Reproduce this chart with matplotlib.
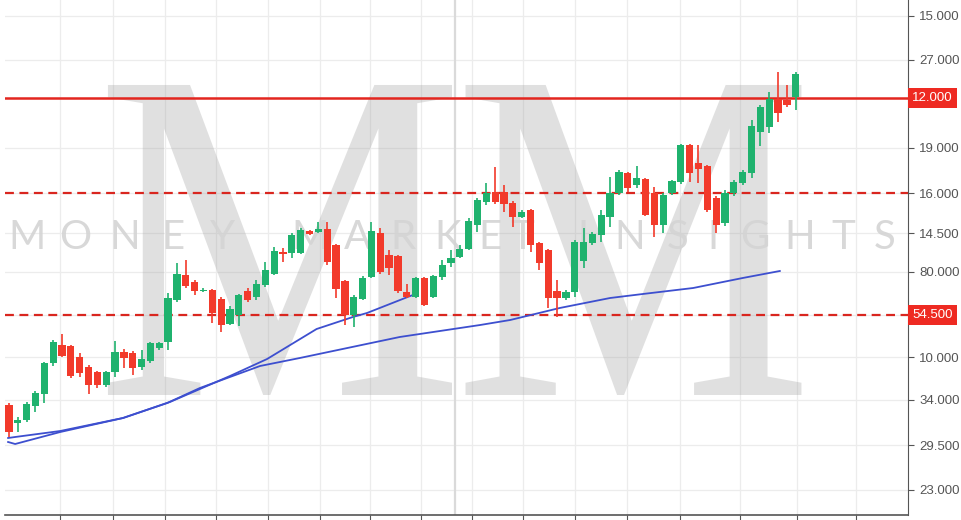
import numpy as np
import matplotlib
matplotlib.use("Agg")
import matplotlib.pyplot as plt
import matplotlib.transforms as mtransforms
from matplotlib.textpath import TextPath
from matplotlib.patches import PathPatch
from matplotlib.font_manager import FontProperties

# Candles (open, high, low, close), price units
opens = [115, 97, 100, 114, 126, 157, 175, 174, 163, 153,
         148, 135, 148, 168, 167, 153, 159, 172, 178, 220,
         245, 238, 229, 230, 221, 196, 205, 229, 223, 235,
         246, 268, 267, 267, 289, 288, 291, 275, 239, 205,
         221, 243, 287, 265, 264, 228, 223, 242, 223, 243,
         257, 263, 271, 295, 318, 328, 328, 317, 303, 310,
         277, 270, 229, 222, 228, 259, 277, 285, 303, 327,
         347, 335, 341, 327, 295, 327, 338, 375, 357, 354,
         322, 297, 327, 337, 347, 388, 393, 421, 420, 423]
highs = [117, 103, 118, 129, 158, 180, 186, 175, 167, 155,
         149, 149, 179, 171, 169, 170, 178, 178, 227, 257,
         260, 240, 232, 231, 223, 214, 226, 232, 240, 258,
         273, 272, 287, 292, 290, 298, 298, 276, 240, 225,
         244, 298, 292, 270, 265, 236, 243, 243, 245, 260,
         270, 275, 302, 322, 337, 353, 335, 319, 310, 311,
         278, 271, 240, 230, 280, 292, 288, 310, 343, 350,
         348, 354, 342, 333, 327, 340, 376, 376, 375, 355,
         324, 330, 340, 350, 400, 415, 428, 448, 435, 448]
lows = [83, 88, 98, 108, 117, 154, 163, 142, 143, 126,
        132, 133, 143, 152, 145, 150, 157, 170, 170, 218,
        232, 225, 228, 197, 188, 195, 194, 218, 220, 233,
        245, 258, 262, 266, 285, 287, 255, 222, 195, 193,
        220, 242, 246, 245, 227, 222, 222, 214, 222, 240,
        253, 262, 270, 288, 315, 316, 308, 293, 302, 268,
        250, 212, 203, 220, 223, 252, 275, 278, 293, 325,
        328, 332, 304, 283, 287, 325, 336, 338, 337, 308,
        287, 294, 324, 335, 342, 374, 387, 398, 413, 410]
closes = [88, 100, 116, 127, 157, 178, 164, 144, 147, 135,
          135, 148, 168, 162, 152, 161, 177, 177, 222, 246,
          234, 229, 230, 207, 195, 211, 225, 220, 236, 250,
          269, 266, 285, 290, 286, 291, 258, 231, 205, 223,
          242, 289, 248, 252, 229, 223, 242, 215, 244, 255,
          262, 271, 299, 320, 327, 318, 316, 303, 308, 275,
          257, 222, 222, 228, 278, 278, 286, 305, 327, 348,
          332, 342, 305, 295, 325, 339, 375, 347, 351, 310,
          295, 327, 338, 348, 394, 413, 421, 407, 415, 446]

# Moving averages (bar index, value)
ma_slow_x = [-0.1, 0.7, 5.8, 12.9, 17.9, 21.6, 25.3, 28.4, 32.9, 44.2,
             53.3, 56.7, 62.3, 68.0, 71.7, 77.4, 83.0, 87.2]
ma_slow_y = [82, 83, 89, 102, 117, 132, 144, 154, 162, 183,
             195, 200, 212, 222, 226, 232, 242, 249]
ma_fast_x = [-0.1, 0.7, 5.8, 12.9, 18.2, 25.0, 29.2, 34.8, 38.9, 40.5, 45.1, 45.7]
ma_fast_y = [78, 76, 88, 102, 118, 144, 161, 191, 203, 207, 223, 225]

# Support / resistance levels
level_main = 422
levels_dashed = [327, 205]

# Right axis
tick_vals = [504, 460, 422, 372, 327, 287, 248, 205, 163, 120, 75, 30]
tick_labels = ["15.000", "27.000", "12.000", "19.000", "16.000", "14.500",
               "80.000", "54.500", "10.000", "34.000", "29.500", "23.000"]
boxed = {422: "12.000", 205: "54.500"}
x_ticks = [5.8, 11.8, 17.6, 23.4, 29.3, 35.2, 40.8, 46.6, 52.4, 58.1,
           64.0, 69.9, 75.9, 82.7, 89.1, 95.8]

GREEN = "#1fb26e"
RED = "#f23a2b"
BLUE = "#3d4fcf"


def fit_text(ax, s, box, family, color, alpha, z):
    tp = TextPath((0, 0), s, size=100, prop=FontProperties(family=family))
    ext = tp.get_extents()
    x0, y0, x1, y1 = box
    tr = mtransforms.Affine2D().translate(-ext.x0, -ext.y0) \
        .scale((x1 - x0) / ext.width, (y1 - y0) / ext.height) \
        .translate(x0, y0) + ax.transAxes
    ax.add_patch(PathPatch(tp, transform=tr, fc=color, ec="none",
                           alpha=alpha, zorder=z))


fig = plt.figure(figsize=(9.62, 5.2), dpi=100)
ax = fig.add_axes([5 / 962, 5 / 520, 903 / 962, 515 / 520])

# grid
for v in tick_vals:
    ax.axhline(v, color="#ececec", lw=0.9, zorder=0)
for v in x_ticks:
    ax.axvline(v, color="#ececec", lw=0.9, zorder=0)
ax.axvline(50.45, color="#dadada", lw=1.6, zorder=0.5)

# watermark
fit_text(ax, "M", (0.114, 0.233, 0.495, 0.835), "Liberation Serif", "#9a9a9a", 0.3, 1)
fit_text(ax, "M", (0.510, 0.233, 0.882, 0.835), "Liberation Serif", "#9a9a9a", 0.3, 1)
wm_chars = "MONEYMARKETINSIGHTS"
wm_px = [27, 75, 125, 173, 223, 310, 357, 403, 448, 490, 522,
         583, 630, 678, 713, 755, 800, 843, 885]
for ch, px in zip(wm_chars, wm_px):
    ax.text((px - 5) / 903, 0.538, ch, transform=ax.transAxes, ha="center",
            va="center", fontsize=29, family="Lato", fontweight="normal",
            color="#d4d4d4", alpha=0.9, zorder=1)

# levels
ax.axhline(level_main, color="#e3261f", lw=1.8, zorder=2)
for lv in levels_dashed:
    ax.axhline(lv, color="#d9261f", lw=1.6, ls=(0, (4, 2.5)), zorder=2)

# moving averages
ax.plot(ma_slow_x, ma_slow_y, color=BLUE, lw=1.3, zorder=3)
ax.plot(ma_fast_x, ma_fast_y, color=BLUE, lw=1.3, zorder=3)

# candles
o = np.array(opens)
c = np.array(closes)
idx = np.arange(len(o))
cols = [GREEN if cc >= oo else RED for oo, cc in zip(o, c)]
ax.vlines(idx, lows, highs, colors=cols, lw=1.2, zorder=4)
body = np.maximum(np.abs(c - o), 1.5)
ax.bar(idx, body, bottom=np.minimum(o, c), width=0.82, color=cols,
       edgecolor="none", zorder=5)

ax.set_xlim(-0.45, 101.7)
ax.set_ylim(5, 520)

ax.yaxis.tick_right()
ax.set_yticks(tick_vals)
ax.set_yticklabels(tick_labels)
ax.tick_params(axis="y", length=4, width=0.8, color="#555555", pad=4,
               labelsize=9.5, labelcolor="#555555")
for lab in ax.get_yticklabels():
    lab.set_family("Liberation Sans")
    if lab.get_text() in boxed.values():
        lab.set_visible(False)
ax.set_xticks(x_ticks)
ax.set_xticklabels([])
ax.tick_params(axis="x", length=5, width=0.8, color="#555555")

for v, s in boxed.items():
    ax.annotate(s, xy=(1.0, v), xycoords=("axes fraction", "data"),
                xytext=(3, 0), textcoords="offset points", ha="left",
                va="center", fontsize=9.5, family="Liberation Sans",
                color="white",
                bbox=dict(boxstyle="square,pad=0.3", fc="#ee2a22", ec="none"))

ax.spines["left"].set_visible(False)
ax.spines["top"].set_visible(False)
ax.spines["right"].set_color("#555555")
ax.spines["bottom"].set_color("#555555")
ax.spines["bottom"].set_linewidth(1.2)

fig.savefig("out.png", dpi=100)
